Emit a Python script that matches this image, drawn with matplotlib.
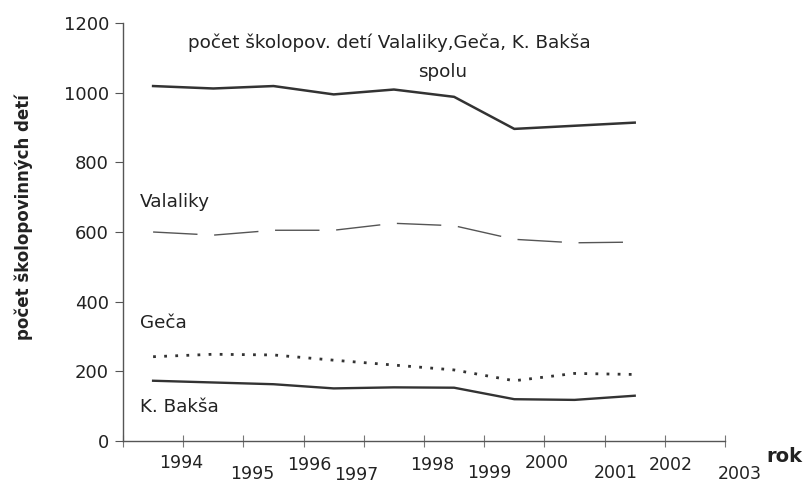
import matplotlib
matplotlib.use("Agg")
import matplotlib.pyplot as plt
import matplotlib.transforms as mtransforms

plt.rcParams['font.family'] = ['DejaVu Sans']

# údaje
roky = ['1994', '1995', '1996', '1997', '1998', '1999', '2000', '2001', '2002', '2003']
spolu = [1019, 1012, 1019, 995, 1009, 988, 896, 905, 914]
valaliky = [600, 591, 605, 605, 625, 618, 579, 569, 571]
geca = [242, 249, 247, 232, 218, 204, 173, 194, 191]
baksa = [173, 168, 163, 151, 154, 153, 120, 118, 130]

# posun popiskov osi x (naskenovaný graf ich má rozhádzané)
label_dx = [-0.04, 0.14, 0.09, -0.12, 0.13, 0.08, 0.04, 0.18, 0.10, 0.25]
label_y = [463, 474, 465, 475, 465, 473, 463, 473, 465, 474]

fig = plt.figure(figsize=(8.1, 4.83), dpi=100)
ax = fig.add_axes([123 / 810, 1 - 441 / 483, 602 / 810, 418 / 483])

x = [i + 0.5 for i in range(len(spolu))]
ax.plot(x, spolu, color='#333333', lw=1.8)
ax.plot(x, valaliky, color='#555555', lw=1.0, linestyle=(0, (32, 12)))
ax.plot(x, geca, color='#333333', lw=2.0, linestyle=(0, (1, 3)))
ax.plot(x, baksa, color='#333333', lw=1.7)

ax.set_xlim(0, 10)
ax.set_ylim(0, 1200)
ax.set_yticks(range(0, 1201, 200))
ax.set_xticks(range(0, 11))
ax.set_xticklabels([])
ax.tick_params(axis='y', direction='out', length=6, width=0.8, colors='#555555',
               labelsize=13, labelcolor='#222222', pad=4)
ax.tick_params(axis='x', direction='inout', length=8, width=0.8, colors='#777777')

for s in ['top', 'right']:
    ax.spines[s].set_visible(False)
for s in ['left', 'bottom']:
    ax.spines[s].set_color('#555555')
    ax.spines[s].set_linewidth(1.0)

trans = mtransforms.blended_transform_factory(ax.transData, fig.transFigure)
for i, r in enumerate(roky):
    ax.text(i + 1 + label_dx[i], 1 - label_y[i] / 483, r, transform=trans,
            ha='center', va='center', fontsize=12.5, color='#222222')

fig.text(784 / 810, 1 - 457 / 483, 'rok', ha='center', va='center',
         fontsize=14, fontweight='bold', color='#222222')
fig.text(24 / 810, 1 - 217 / 483, 'počet školopovinných detí', rotation=90,
         ha='center', va='center', fontsize=12, fontweight='bold', color='#222222')

fig.text(188 / 810, 1 - 43 / 483, 'počet školopov. detí Valaliky,Geča, K. Bakša',
         ha='left', va='center', fontsize=13.2, color='#222222')
fig.text(443 / 810, 1 - 72 / 483, 'spolu', ha='center', va='center',
         fontsize=13.2, color='#222222')
fig.text(140 / 810, 1 - 202 / 483, 'Valaliky', ha='left', va='center',
         fontsize=13.2, color='#222222')
fig.text(140 / 810, 1 - 323 / 483, 'Geča', ha='left', va='center',
         fontsize=13.2, color='#222222')
fig.text(140 / 810, 1 - 407 / 483, 'K. Bakša', ha='left', va='center',
         fontsize=13.2, color='#222222')

fig.savefig('out.png', dpi=100)
